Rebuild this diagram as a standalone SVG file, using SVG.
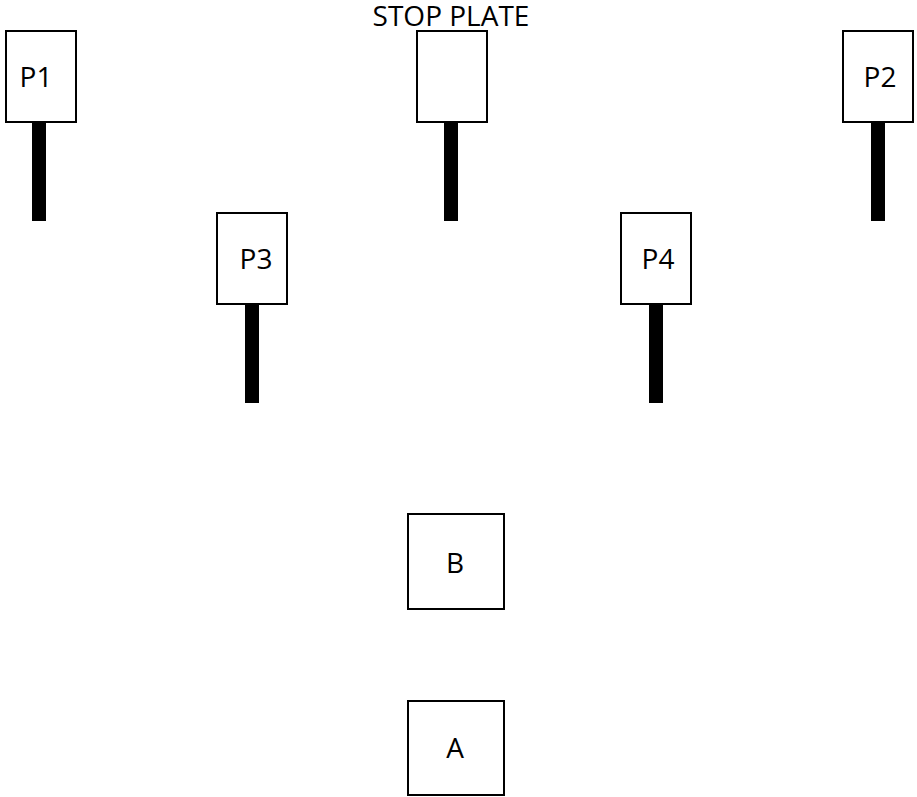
<svg xmlns="http://www.w3.org/2000/svg" width="917" height="797" viewBox="0 0 917 797">
  <style>
    .box { fill: #ffffff; stroke: #000000; stroke-width: 2; }
    .pole { fill: #000000; }
    .lbl { font-family: "Open Sans", "Noto Sans", "DejaVu Sans", sans-serif; font-size: 28px; fill: #000000; }
  </style>
  <rect width="917" height="797" fill="#ffffff"/>

  <!-- posts on the top row -->
  <g id="P1">
    <rect class="box" x="6" y="31" width="70" height="91"/>
    <rect class="pole" x="32" y="122" width="14" height="99"/>
    <text class="lbl" x="36" y="87" text-anchor="middle">P1</text>
  </g>
  <g id="stop-plate">
    <rect class="box" x="417" y="31" width="70" height="91"/>
    <rect class="pole" x="444" y="122" width="14" height="99"/>
    <text class="lbl" x="451" y="26" font-size="27" text-anchor="middle">STOP PLATE</text>
  </g>
  <g id="P2">
    <rect class="box" x="843" y="31" width="70" height="91"/>
    <rect class="pole" x="871" y="122" width="14" height="99"/>
    <text class="lbl" x="880" y="87" text-anchor="middle">P2</text>
  </g>

  <!-- posts on the middle row -->
  <g id="P3">
    <rect class="box" x="217" y="213" width="70" height="91"/>
    <rect class="pole" x="245" y="304" width="14" height="99"/>
    <text class="lbl" x="256" y="269" text-anchor="middle">P3</text>
  </g>
  <g id="P4">
    <rect class="box" x="621" y="213" width="70" height="91"/>
    <rect class="pole" x="649" y="304" width="14" height="99"/>
    <text class="lbl" x="658" y="269" text-anchor="middle">P4</text>
  </g>

  <!-- start positions -->
  <g id="B">
    <rect class="box" x="408" y="514" width="96" height="95"/>
    <text class="lbl" x="455" y="573" text-anchor="middle">B</text>
  </g>
  <g id="A">
    <rect class="box" x="408" y="701" width="96" height="94"/>
    <text class="lbl" x="455" y="758" text-anchor="middle">A</text>
  </g>

  <g id="connectors"></g>
</svg>
